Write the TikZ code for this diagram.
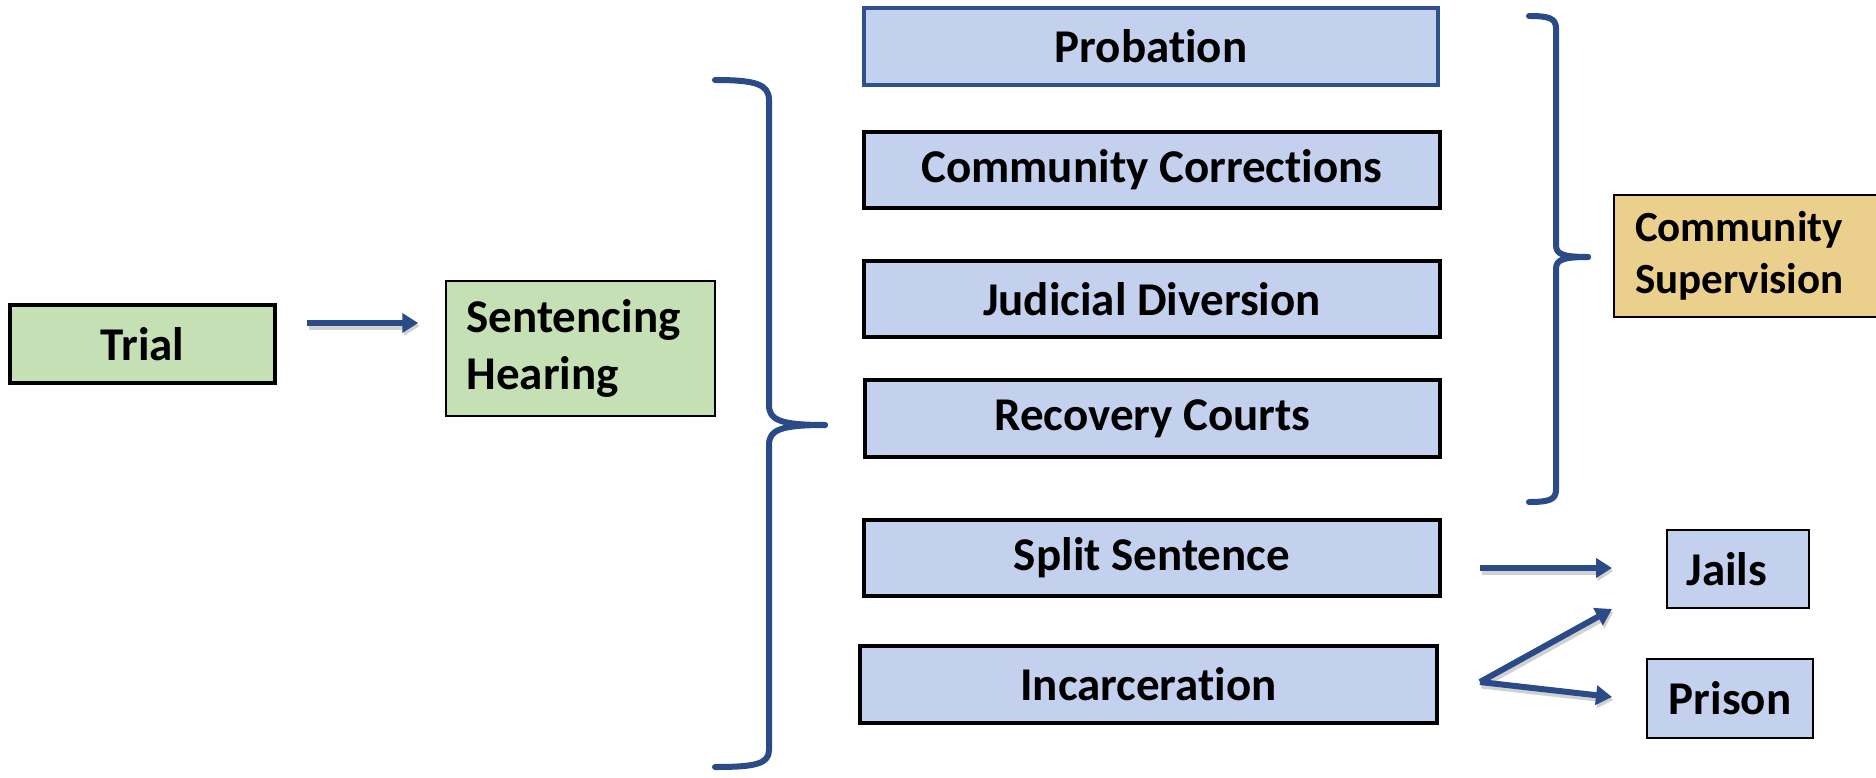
\documentclass[tikz,border=0pt]{standalone}
\usepackage{fontspec}
\setmainfont{Carlito}[Ligatures=NoCommon]
\usetikzlibrary{arrows.meta,calc}
\definecolor{gfill}{HTML}{C5E0B4}
\definecolor{bfill}{HTML}{C4D1EE}
\definecolor{ofill}{HTML}{EBCF8C}
\definecolor{navy}{HTML}{2B4A88}
\definecolor{pborder}{HTML}{2F528F}
\tikzset{
  box/.style={draw=black, rectangle, inner sep=0pt, font=\bfseries\fontsize{47}{56}\selectfont, text=black},
  greenbox/.style={box, fill=gfill},
  bluebox/.style={box, fill=bfill, line width=4pt, minimum width=576pt, minimum height=76pt},
  smallbox/.style={box, fill=bfill, line width=2pt},
  arr/.style={draw=navy, line width=6pt, -{Triangle[length=16pt,width=19pt]},
    preaction={draw=black!18, line width=7pt, transform canvas={shift={(1.5pt,-3pt)}}}},
  bracepath/.style={draw=navy, line width=6pt, line cap=round, line join=round},
}
\begin{document}
\begin{tikzpicture}[x=1pt,y=-1pt]
\useasboundingbox (0,0) rectangle (1876,778);
\fill[white] (0,0) rectangle (1876,778);

\node[greenbox, line width=4pt, minimum width=265pt, minimum height=78pt] (trial) at (142.5,344) {Trial};
\node[greenbox, line width=1.5pt, minimum width=269pt, minimum height=135pt, align=left, text width=228pt, font=\bfseries\fontsize{47}{57}\selectfont] (sent) at (580.5,348.5) {Sentencing\\Hearing};

\node[bluebox, draw=pborder, line width=3.5pt, minimum width=574pt, minimum height=77pt] (prob) at (1151,46.5) {Probation};
\node[bluebox] (cc) at (1152,170) {Community Corrections};
\node[bluebox] (jd) at (1152,299) {Judicial Diversion};
\node[bluebox, minimum width=575pt, minimum height=77pt] (rc) at (1152.5,418.5) {Recovery Courts};
\node[bluebox] (ss) at (1152,558) {Split Sentence};
\node[bluebox, minimum width=577pt, minimum height=77pt] (inc) at (1148.5,684.5) {Incarceration};

\node[box, fill=ofill, line width=2pt, minimum width=264pt, minimum height=122pt, align=left, text width=222pt, font=\bfseries\fontsize{43}{52}\selectfont] (cs) at (1746,256) {Community\\Supervision};

\node[smallbox, minimum width=142pt, minimum height=78pt, text width=103pt, align=left] (jails) at (1738,569) {Jails};
\node[smallbox, minimum width=166pt, minimum height=79pt] (prison) at (1730,698) {Prison};

% arrows
\draw[arr] ($(trial.east)+(30,-21)$) -- ($(sent.west)+(-27,-25.5)$);
\draw[arr] ($(ss.east)+(38,10)$) -- ($(jails.west)+(-54,-1)$);
\coordinate (fork) at ($(inc.east)+(41,-2.5)$);
\draw[arr] (fork) -- ($(jails.south west)+(-54,0)$);
\draw[arr] (fork) -- ($(prison.west)+(-34,-1)$);

% left brace
\draw[bracepath] (715,80) .. controls (755,80) and (769,84) .. (769,100) -- (769,405)
  .. controls (769,420) and (780,425) .. (825,425);
\draw[bracepath] (825,425) .. controls (780,425) and (769,430) .. (769,445) -- (769,750)
  .. controls (769,764) and (755,767) .. (715,767);
% right brace
\draw[bracepath] (1529,16) .. controls (1548,16) and (1556,18) .. (1556,28) -- (1556,245)
  .. controls (1556,254) and (1562,257) .. (1588,257);
\draw[bracepath] (1588,257) .. controls (1562,257) and (1556,260) .. (1556,269) -- (1556,490)
  .. controls (1556,500) and (1548,502) .. (1529,502);
\end{tikzpicture}
\end{document}
